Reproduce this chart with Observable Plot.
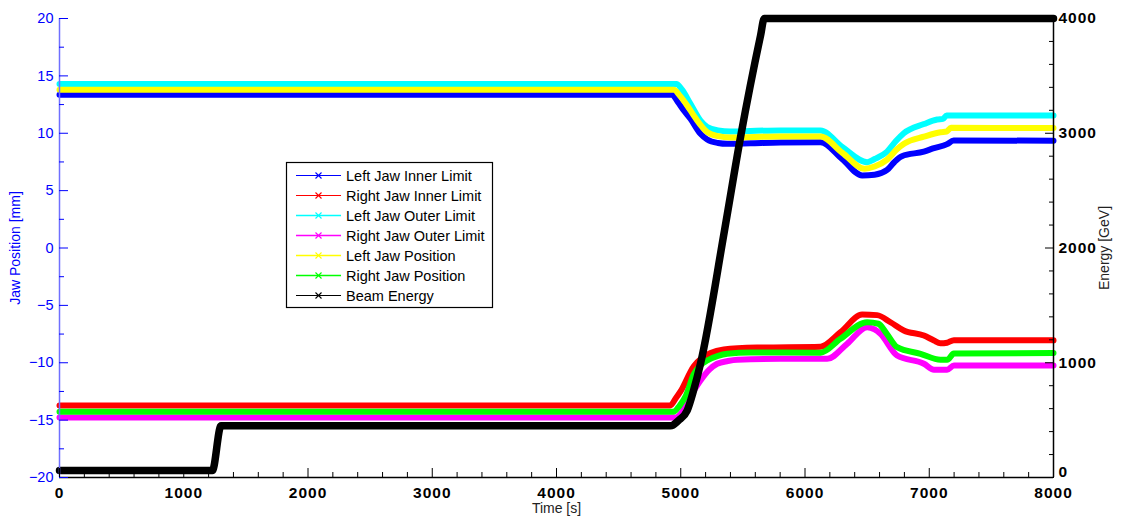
<!DOCTYPE html>
<html><head><meta charset="utf-8">
<script src="https://cdn.jsdelivr.net/npm/d3@7"></script>
<script src="https://cdn.jsdelivr.net/npm/@observablehq/plot@0.6"></script>
<style>
body{margin:0;background:#fff;}
#wrap{position:relative;width:1124px;height:518px;font-family:"Liberation Sans",Arial,Helvetica,sans-serif;}
#legend{position:absolute;left:0;top:0;pointer-events:none;}
.boldtick text{letter-spacing:1px;}
</style></head><body><div id="wrap"></div>
<script>
// ---- data: [time s, jaw position mm] ----
const leftJawInnerLimit = [[0,13.35],[4930,13.35],[4975,12.75],[5025,11.98],[5078,11.26],[5159,9.95],[5213,9.45],[5300,9.15],[5374,9.08],[5561,9.13],[5803,9.2],[6125,9.22],[6300,7.75],[6460,6.32],[6560,6.38],[6661,6.8],[6720,7.5],[6780,8.0],[6957,8.4],[7038,8.7],[7144,9.05],[7196,9.37],[8000,9.35]];
const rightJawInnerLimit = [[0,-13.72],[4915,-13.72],[4960,-13.1],[4998,-12.5],[5105,-10.3],[5170,-9.6],[5240,-9.15],[5346,-8.85],[5615,-8.68],[6125,-8.6],[6286,-7.34],[6460,-5.8],[6580,-5.85],[6688,-6.47],[6795,-7.19],[6957,-7.63],[7038,-8.06],[7090,-8.3],[7144,-8.25],[7198,-8.03],[8000,-8.05]];
const leftJawOuterLimit = [[0,14.3],[4965,14.3],[5010,13.8],[5078,12.57],[5159,11.1],[5213,10.55],[5300,10.25],[5400,10.15],[5561,10.2],[5803,10.25],[6125,10.25],[6300,8.8],[6500,7.48],[6560,7.75],[6661,8.4],[6730,9.3],[6795,10.0],[6957,10.8],[7064,11.2],[7110,11.25],[7140,11.55],[8000,11.55]];
const rightJawOuterLimit = [[0,-14.78],[4958,-14.78],[5010,-14.3],[5080,-12.9],[5159,-11.55],[5230,-10.6],[5293,-10.09],[5380,-9.85],[5454,-9.74],[5803,-9.66],[6179,-9.66],[6339,-8.35],[6500,-6.9],[6560,-7.1],[6607,-7.48],[6741,-9.37],[6957,-10.09],[7038,-10.61],[7144,-10.61],[7198,-10.24],[8000,-10.24]];
const leftJawPosition = [[0,13.8],[4945,13.8],[4990,13.3],[5050,12.45],[5120,11.3],[5213,10.1],[5300,9.75],[5400,9.63],[5600,9.68],[5803,9.72],[6125,9.72],[6300,8.3],[6480,6.9],[6560,7.1],[6661,7.7],[6740,8.6],[6800,9.1],[6957,9.7],[7090,10.09],[7140,10.15],[7175,10.47],[8000,10.45]];
const rightJawPosition = [[0,-14.28],[4940,-14.28],[4990,-13.75],[5040,-12.9],[5105,-11.0],[5160,-10.2],[5213,-9.8],[5300,-9.4],[5374,-9.22],[5561,-9.1],[6125,-9.12],[6286,-7.91],[6500,-6.47],[6590,-6.6],[6660,-7.5],[6741,-8.64],[6930,-9.22],[7090,-9.74],[7144,-9.74],[7198,-9.2],[8000,-9.15]];
// [time s, energy GeV]
const beamEnergy = [[0,60],[1230,60],[1300,450],[4918,450],[4982,497],[5052,584],[5103,758],[5159,993],[5352,2152],[5481,2965],[5642,3850],[5672,4000],[8000,4000]];

const seriesNames = ["Left Jaw Inner Limit","Right Jaw Inner Limit","Left Jaw Outer Limit","Right Jaw Outer Limit","Left Jaw Position","Right Jaw Position","Beam Energy"];
const seriesColors = ["#0000ff","#ff0000","#00ffff","#ff00ff","#ffff00","#00ff00","#000000"];

const timeTicks = d3.range(0, 8001, 1000);
const timeMinor = d3.range(0, 8001, 200).filter(d => d % 1000);
const jawTicks = d3.range(-20, 20.1, 5);
const jawMinor = d3.range(-17.5, 20, 5);
const energyTicks = [0, 1000, 2000, 3000, 4000];
const energyMinor = d3.range(0, 4001, 200).filter(d => d % 1000);

// energy (0..4000 GeV) shares the jaw scale (-20..20 mm)
const eToJaw = e => e / 100 - 20;
const jawToE = v => Math.round((v + 20) * 100);

const jawSeries = [leftJawInnerLimit, rightJawInnerLimit, leftJawOuterLimit, rightJawOuterLimit, leftJawPosition, rightJawPosition];
const energyRows = beamEnergy.map(([t, e]) => [t, eToJaw(e)]);

const lineMarks = jawSeries.map((d, i) => Plot.line(d, {x: d => d[0], y: d => d[1], stroke: seriesColors[i], strokeWidth: 6, curve: "monotone-x"}));
lineMarks.push(Plot.line(energyRows, {x: d => d[0], y: d => d[1], stroke: seriesColors[6], strokeWidth: 7.5, curve: "monotone-x"}));

const chart = Plot.plot({
  width: 1124, height: 518,
  marginTop: 18, marginBottom: 41, marginLeft: 59, marginRight: 71,
  style: {fontFamily: '"Liberation Sans", Arial, Helvetica, sans-serif', background: "#fff"},
  x: {domain: [0, 8000]},
  y: {domain: [-20, 20]},
  marks: [
    ...lineMarks,
    // axis lines
    Plot.ruleX([0], {stroke: "#6f6fff", strokeWidth: 1.5}),
    Plot.ruleX([8000], {stroke: "#000", strokeWidth: 1.5}),
    Plot.ruleY([-20], {stroke: "#000", strokeWidth: 1.5}),
    // left axis (jaw) inward ticks + labels
    Plot.axisY({anchor: "left", ticks: jawTicks, tickSize: 9, dx: 9, tickFormat: () => "", label: null, color: "blue"}),
    Plot.axisY({anchor: "left", ticks: jawMinor, tickSize: 5, dx: 5, tickFormat: () => "", label: null, color: "blue"}),
    Plot.axisY({anchor: "left", ticks: jawTicks, tickSize: 0, tickPadding: 6, label: null, color: "blue", fontSize: 14.5}),
    // right axis (energy)
    Plot.axisY({anchor: "right", ticks: energyTicks.map(eToJaw), tickSize: 9, dx: -9, tickFormat: () => "", label: null, color: "black"}),
    Plot.axisY({anchor: "right", ticks: energyMinor.map(eToJaw), tickSize: 5, dx: -5, tickFormat: () => "", label: null, color: "black"}),
    Plot.axisY({anchor: "right", ticks: energyTicks.slice(1).map(eToJaw), tickFormat: v => String(jawToE(v)), tickSize: 0, tickPadding: 5, label: null, color: "black", fontWeight: "bold", fontSize: 15.5, className: "boldtick"}),
    Plot.axisY({anchor: "right", ticks: energyTicks.slice(0, 1).map(eToJaw), tickFormat: v => String(jawToE(v)), tickSize: 0, tickPadding: 5, dy: -5, label: null, color: "black", fontWeight: "bold", fontSize: 15.5, className: "boldtick"}),
    // bottom axis (time)
    Plot.axisX({anchor: "bottom", ticks: timeTicks, tickSize: 9, dy: -9, tickFormat: () => "", label: null, color: "black"}),
    Plot.axisX({anchor: "bottom", ticks: timeMinor, tickSize: 5, dy: -5, tickFormat: () => "", label: null, color: "black"}),
    Plot.axisX({anchor: "bottom", ticks: timeTicks, tickFormat: d => String(d), tickSize: 0, tickPadding: 9, label: null, color: "black", fontWeight: "bold", fontSize: 15.5, className: "boldtick"}),
    // axis titles
    Plot.text(["Time [s]"], {frameAnchor: "bottom", dy: 31, lineAnchor: "middle", textAnchor: "middle", fill: "#222", fontSize: 14}),
    Plot.text(["Jaw Position [mm]"], {frameAnchor: "left", dx: -44, rotate: -90, lineAnchor: "middle", textAnchor: "middle", fill: "blue", fontSize: 14}),
    Plot.text(["Energy [GeV]"], {frameAnchor: "right", dx: 51, rotate: -90, lineAnchor: "middle", textAnchor: "middle", fill: "#222", fontSize: 14})
  ]
});
const wrap = document.getElementById("wrap");
wrap.appendChild(chart);

// legend
const lg = d3.select(wrap).append("svg").attr("id", "legend").attr("width", 1124).attr("height", 518);
lg.append("rect").attr("x", 286.5).attr("y", 162.5).attr("width", 206).attr("height", 145)
  .attr("fill", "#fff").attr("stroke", "#000").attr("stroke-width", 1.2);
seriesNames.forEach((name, i) => {
  const y = 175.5 + i * 20;
  const g = lg.append("g");
  g.append("line").attr("x1", 296).attr("x2", 341).attr("y1", y).attr("y2", y)
    .attr("stroke", seriesColors[i]).attr("stroke-width", [2,3,4,5].includes(i) ? 1.6 : 1.1);
  g.append("path").attr("d", `M${318.5-3},${y-3}L${318.5+3},${y+3}M${318.5-3},${y+3}L${318.5+3},${y-3}`)
    .attr("stroke", seriesColors[i]).attr("stroke-width", 1.1);
  g.append("text").attr("x", 346).attr("y", y).attr("dy", "0.36em")
    .attr("font-size", 14.5).attr("fill", "#000").text(name);
});
</script></body></html>
